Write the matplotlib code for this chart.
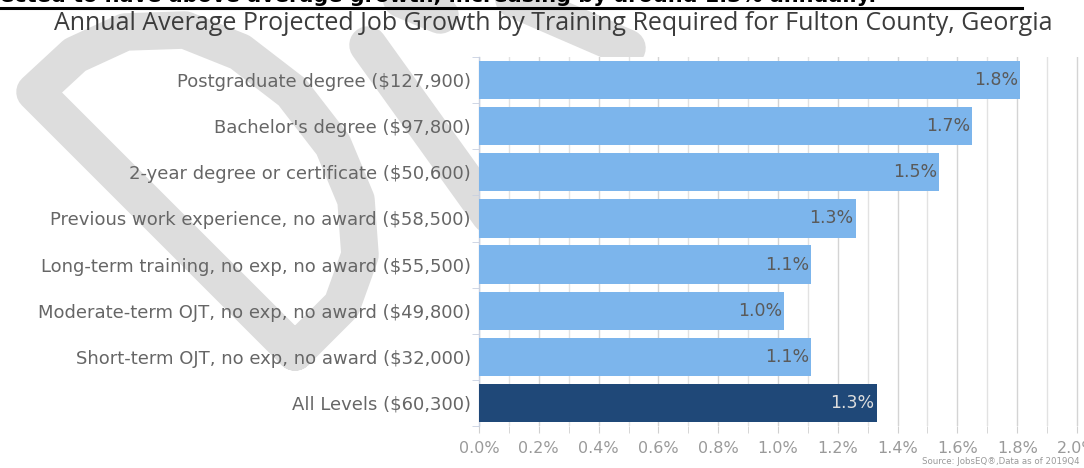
import matplotlib
matplotlib.use("Agg")
import matplotlib.pyplot as plt
from matplotlib.lines import Line2D
from matplotlib.ticker import MultipleLocator, FixedLocator, FuncFormatter

# ---------------- data ----------------
categories = [
    "Postgraduate degree ($127,900)",
    "Bachelor's degree ($97,800)",
    "2-year degree or certificate ($50,600)",
    "Previous work experience, no award ($58,500)",
    "Long-term training, no exp, no award ($55,500)",
    "Moderate-term OJT, no exp, no award ($49,800)",
    "Short-term OJT, no exp, no award ($32,000)",
    "All Levels ($60,300)",
]
values = [1.81, 1.65, 1.54, 1.26, 1.11, 1.02, 1.11, 1.33]
value_labels = ["1.8%", "1.7%", "1.5%", "1.3%", "1.1%", "1.0%", "1.1%", "1.3%"]
x_ticks = [0.0, 0.2, 0.4, 0.6, 0.8, 1.0, 1.2, 1.4, 1.6, 1.8, 2.0]

title = "Annual Average Projected Job Growth by Training Required for Fulton County, Georgia"
headline = "ected to have above average growth, increasing by around 1.3% annually."
source = "Source: JobsEQ\u00ae,Data as of 2019Q4"

# ---------------- style ----------------
W, H = 1084, 468
fig = plt.figure(figsize=(W / 100, H / 100), dpi=100)
fig.patch.set_facecolor("white")

def fx(x):
    return x / W

def fy(y):
    return 1 - y / H

# watermark (DRAFT letters, partially visible)
wm_color = "#dddddd"
wm_lw = 27
d_path = [(295, 352), (35, 92), (75, 55), (125, 32), (185, 30), (240, 52),
          (292, 92), (333, 145), (356, 200), (360, 255), (342, 305), (295, 352)]
r_stem = [(368, 45), (490, 215)]
r_bowl = [(470, -20), (627, 48)]
r_top = [(380, -10), (440, 15)]
for path in (d_path, r_stem, r_bowl, r_top):
    xs = [fx(p[0]) for p in path]
    ys = [fy(p[1]) for p in path]
    fig.add_artist(Line2D(xs, ys, transform=fig.transFigure, color=wm_color,
                          lw=wm_lw, solid_capstyle="round",
                          solid_joinstyle="round", zorder=-5))

left_px, right_px = 479, 1084
top_px, bottom_px = 57, 426
ax = fig.add_axes([fx(left_px), fy(bottom_px), fx(right_px - left_px),
                   (bottom_px - top_px) / H])
ax.set_facecolor("white")

light = "#7cb5ec"
dark = "#1f4878"
colors = [light] * (len(categories) - 1) + [dark]
ypos = list(range(len(categories)))
ax.barh(ypos, values, height=0.83, color=colors, zorder=3,
        edgecolor="none")

xmax = 2.0 + (right_px - 1077) / 299
ax.set_xlim(0, xmax)
ax.set_ylim(len(categories) - 0.5, -0.5)

# grid every 0.1
ax.xaxis.set_major_locator(FixedLocator(x_ticks))
ax.xaxis.set_minor_locator(MultipleLocator(0.1))
ax.xaxis.set_major_formatter(FuncFormatter(lambda v, p: f"{v:.1f}%"))
ax.grid(axis="x", which="major", color="#d4d4d4", lw=1.0, zorder=0)
ax.grid(axis="x", which="minor", color="#e2e2e2", lw=1.0, zorder=0)
ax.tick_params(axis="x", which="both", length=5, color="#d0d0d0",
               labelsize=11.5, labelcolor="#9a9a9a", pad=6)

ax.set_yticks(ypos)
ax.set_yticklabels(categories)
ax.yaxis.set_minor_locator(FixedLocator([i + 0.5 for i in range(-1, len(categories))]))
ax.tick_params(axis="y", which="major", length=0, labelsize=13,
               labelcolor="#666666", pad=6)
ax.tick_params(axis="y", which="minor", length=5, color="#c8d0e0")

for s in ("top", "right", "bottom"):
    ax.spines[s].set_visible(False)
ax.spines["left"].set_color("#c8d0e0")
ax.spines["left"].set_linewidth(1)

for i, (v, lab) in enumerate(zip(values, value_labels)):
    col = "#dddddd" if colors[i] == dark else "#5a5a5a"
    ax.annotate(lab, xy=(v, i), xytext=(-1.5, 0), textcoords="offset points",
                ha="right", va="center", fontsize=12.5, color=col, zorder=5)

fig.text(fx(553), fy(30), title, ha="center", va="baseline",
         fontsize=18, family="Open Sans", color="#3c3c3c", zorder=10)

fig.text(fx(0), fy(1.5), headline, ha="left", va="baseline", fontsize=15,
         fontweight="bold", color="black", zorder=10)
fig.add_artist(Line2D([fx(0), fx(1022)], [fy(8), fy(8)],
                      transform=fig.transFigure, color="black", lw=2.2,
                      zorder=10))

fig.text(fx(1080), fy(461), source, ha="right", va="center", fontsize=6.2,
         color="#999999")

fig.savefig("out.png", dpi=100, facecolor="white")
